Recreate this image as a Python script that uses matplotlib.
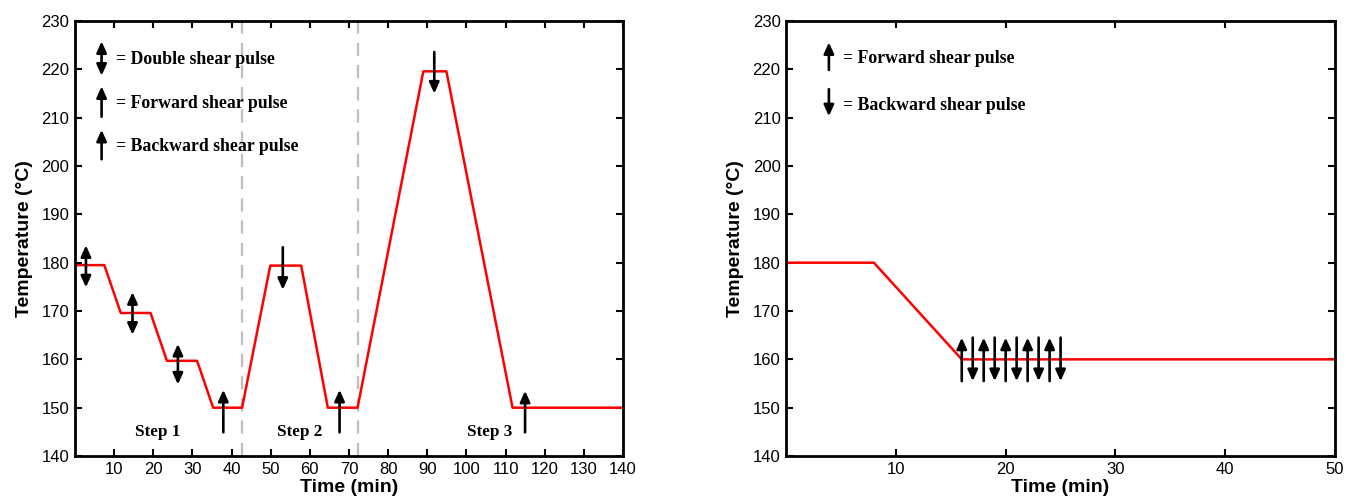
import matplotlib
matplotlib.use("Agg")
import matplotlib.pyplot as plt

# ---------------- data ----------------
left_time = [0, 7.5, 11.7, 19.3, 23.5, 31.2, 35.3, 42.7, 49.9, 57.8, 64.6, 72.2, 89.0, 94.9, 111.8, 140]
left_temp = [179.5, 179.5, 169.6, 169.6, 159.7, 159.7, 150, 150, 179.4, 179.4, 150, 150, 219.6, 219.6, 150, 150]
step_bounds = [42.7, 72.2]
step_labels = ["Step 1", "Step 2", "Step 3"]
step_label_x = [21.2, 57.4, 105.9]

# (time, tail temp, tip temp)
left_double = [(2.8, 174.9, 183.6), (14.7, 165.1, 173.9), (26.3, 154.8, 163.2)]
left_forward = [(37.9, 144.9, 153.7), (67.6, 144.9, 153.7), (115.0, 144.9, 153.5)]
left_backward = [(53.1, 183.2, 174.4), (91.8, 223.6, 215.0)]

right_time = [0, 8, 16, 50]
right_temp = [180, 180, 160, 160]
right_pulse_time = [16, 17, 18, 19, 20, 21, 22, 23, 24, 25]
right_pulse_dir = ["up", "down", "up", "down", "up", "down", "up", "down", "up", "down"]

left_xticks = [10, 20, 30, 40, 50, 60, 70, 80, 90, 100, 110, 120, 130, 140]
right_xticks = [10, 20, 30, 40, 50]
yticks = [140, 150, 160, 170, 180, 190, 200, 210, 220, 230]

# ---------------- style ----------------
SANS = "Liberation Sans"
SERIF = "Liberation Serif"
RED = "#ff0000"
HEAD = "head_length=0.6,head_width=0.27"


def arrow(ax, x, y0, y1, double=False):
    style = ("<|-|>," if double else "-|>,") + HEAD
    ax.annotate("", xy=(x, y1), xytext=(x, y0),
                arrowprops=dict(arrowstyle=style, color="black", lw=1.9,
                                shrinkA=0, shrinkB=0, mutation_scale=11))


def style_axes(ax, xmax, xticks):
    ax.set_xlim(0, xmax)
    ax.set_ylim(140, 230)
    ax.set_xticks(xticks)
    ax.set_yticks(yticks)
    ax.tick_params(direction="in", length=5, width=1.5, top=True, right=True,
                   labelsize=12, pad=4)
    for lab in ax.get_xticklabels() + ax.get_yticklabels():
        lab.set_fontfamily(SANS)
    for s in ax.spines.values():
        s.set_linewidth(2)
    ax.set_xlabel("Time (min)", fontfamily=SANS, fontweight="bold", fontsize=14, labelpad=2)
    ax.set_ylabel("Temperature (°C)", fontfamily=SANS, fontweight="bold", fontsize=14, labelpad=6)


fig = plt.figure(figsize=(13.46, 5.04), dpi=100)
ax1 = fig.add_axes([0.0557, 0.0952, 0.4071, 0.863])
ax2 = fig.add_axes([0.5840, 0.0952, 0.4079, 0.863])

# ---------------- left ----------------
for xb in step_bounds:
    ax1.axvline(xb, color="#bfbfbf", lw=1.6, ls=(0, (6, 4)), zorder=1)
ax1.plot(left_time, left_temp, color=RED, lw=1.8, zorder=2)
for x, a, b in left_double:
    arrow(ax1, x, a, b, double=True)
for x, a, b in left_forward:
    arrow(ax1, x, a, b)
for x, a, b in left_backward:
    arrow(ax1, x, a, b)
for lab, x in zip(step_labels, step_label_x):
    ax1.text(x, 144.9, lab, ha="center", va="center", fontfamily=SERIF,
             fontweight="bold", fontsize=12.3)

# legend (left)
arrow(ax1, 6.8, 218.7, 225.8, double=True)
arrow(ax1, 6.8, 210.2, 216.5)
arrow(ax1, 6.8, 201.4, 207.5)
ax1.text(10.6, 222.0, "= Double shear pulse", ha="left", va="center",
         fontfamily=SERIF, fontweight="bold", fontsize=12.8)
ax1.text(10.6, 213.0, "= Forward shear pulse", ha="left", va="center",
         fontfamily=SERIF, fontweight="bold", fontsize=12.8)
ax1.text(10.6, 204.0, "= Backward shear pulse", ha="left", va="center",
         fontfamily=SERIF, fontweight="bold", fontsize=12.8)
style_axes(ax1, 140, left_xticks)

# ---------------- right ----------------
ax2.plot(right_time, right_temp, color=RED, lw=1.8, zorder=2)
for t, d in zip(right_pulse_time, right_pulse_dir):
    if d == "up":
        arrow(ax2, t, 155.5, 164.5)
    else:
        arrow(ax2, t, 164.5, 155.5)
arrow(ax2, 3.9, 219.9, 225.6)
arrow(ax2, 3.9, 215.9, 210.3)
ax2.text(5.2, 222.3, "= Forward shear pulse", ha="left", va="center",
         fontfamily=SERIF, fontweight="bold", fontsize=12.8)
ax2.text(5.2, 212.5, "= Backward shear pulse", ha="left", va="center",
         fontfamily=SERIF, fontweight="bold", fontsize=12.8)
style_axes(ax2, 50, right_xticks)

fig.savefig("out.png", dpi=100)
